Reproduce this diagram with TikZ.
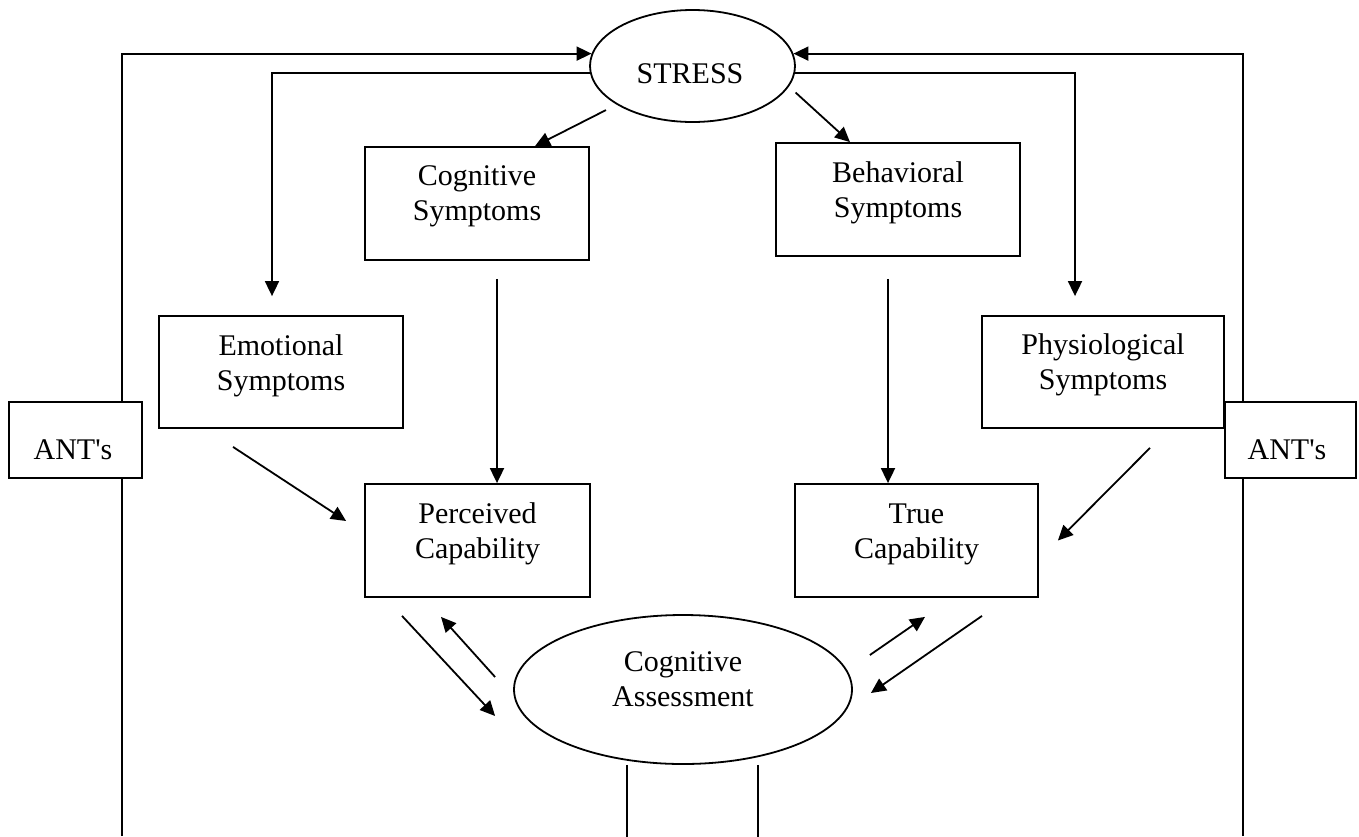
\documentclass[tikz,border=0pt]{standalone}
\usepackage{fontspec}
\setmainfont{Liberation Serif}
\usetikzlibrary{shapes.geometric,arrows.meta,calc}
\tikzset{
  box/.style={draw, line width=0.9pt, fill=white, inner sep=0pt},
  oval/.style={draw, ellipse, line width=0.9pt, inner sep=0pt},
  lbl/.style={font=\fontsize{15}{17.5}\selectfont, align=center, inner sep=0pt},
  conn/.style={line width=0.9pt},
  arr/.style={conn, -{Triangle[length=7.5pt,width=7pt]}},
}
\begin{document}
\begin{tikzpicture}[x=0.5pt,y=-0.5pt]
\fill[white] (0,0) rectangle (1359,836);
\useasboundingbox (0,0) rectangle (1359,836);

% ovals
\node[oval, minimum width=102.5pt, minimum height=56pt] (stress) at (692.5,66) {};
\node[lbl, anchor=base] (stresst) at (690,83) {STRESS};
\node[oval, minimum width=169pt, minimum height=74.5pt] (ca) at (683,689.5) {};
\node[lbl, anchor=north] (cat) at (683,646.5) {\strut Cognitive\\Assessment};

% boxes
\node[box, minimum width=112pt, minimum height=56.5pt] (cs) at (477,203.5) {};
\node[lbl, anchor=north] (cst) at (477,160.5) {\strut Cognitive\\Symptoms};
\node[box, minimum width=122pt, minimum height=56.5pt] (bs) at (898,199.5) {};
\node[lbl, anchor=north] (bst) at (898,157.5) {\strut Behavioral\\Symptoms};
\node[box, minimum width=122pt, minimum height=56pt] (es) at (281,372) {};
\node[lbl, anchor=north] (est) at (281,330.5) {\strut Emotional\\Symptoms};
\node[box, minimum width=121pt, minimum height=56pt] (ps) at (1103,372) {};
\node[lbl, anchor=north] (pst) at (1103,329.5) {\strut Physiological\\Symptoms};
\node[box, minimum width=112.5pt, minimum height=56.5pt] (pc) at (477.5,540.5) {};
\node[lbl, anchor=north] (pct) at (477.5,498.5) {\strut Perceived\\Capability};
\node[box, minimum width=121.5pt, minimum height=56.5pt] (tc) at (916.5,540.5) {};
\node[lbl, anchor=north] (tct) at (916.5,498.5) {\strut True\\Capability};
\node[box, minimum width=66.5pt, minimum height=38pt] (al) at (75.5,440) {};
\node[lbl, anchor=base] (alt) at (73,459) {ANT\textquotesingle s};
\node[box, minimum width=65.5pt, minimum height=38pt] (ar) at (1290.5,440) {};
\node[lbl, anchor=base] (art) at (1287,459) {ANT\textquotesingle s};

% free ends at the bottom edge
\coordinate (lb) at (122,836);
\coordinate (rb) at (1243,836);

% feedback loops
\draw[conn] (lb) -- (lb |- al.south);
\draw[arr] (lb |- al.north) |- (stress.173);
\draw[conn] (rb) -- (rb |- ar.south);
\draw[arr] (rb |- ar.north) |- (stress.7);
\draw[arr, shorten >=9.5pt] (stress.184) -| ($(es.north)+(-9,0)$);
\draw[arr, shorten >=9.5pt] (stress.-4) -| ($(ps.north)+(-28,0)$);

% stress to symptoms
\draw[arr, shorten <=6pt] (stress.207.5) -- ($(cs.north)+(58,0)$);
\draw[arr, shorten <=4.5pt] (stress.348.3) -- ($(bs.north)+(-48,0)$);

% symptoms to capabilities
\draw[arr] ($(cs.south)+(20,18)$) -- ($(pc.north)+(19.5,0)$);
\draw[arr] ($(bs.south)+(-10,22)$) -- ($(tc.north)+(-28.5,0)$);
\draw[arr] ($(es.south)+(-48,18)$) -- ($(pc.west)+(-18,-19.5)$);
\draw[arr] ($(ps.south)+(47,19)$) -- ($(tc.east)+(19,0)$);

% capabilities and assessment
\draw[arr] ($(pc.south)+(-75.5,18)$) -- ($(ca.west)+(-18,26.5)$);
\draw[arr] ($(ca.west)+(-18,-12.5)$) -- ($(pc.south)+(-36.5,19)$);
\draw[arr] ($(ca.east)+(17,-34.5)$) -- ($(tc.south)+(8.5,19)$);
\draw[arr] ($(tc.south)+(65.5,18)$) -- ($(ca.east)+(18,3.5)$);

% lines below the assessment
\draw[conn] ($(ca.south)+(-56,0)$) -- ($(ca.south)+(-56,72)$);
\draw[conn] ($(ca.south)+(75,0)$) -- ($(ca.south)+(75,72)$);
\end{tikzpicture}
\end{document}
